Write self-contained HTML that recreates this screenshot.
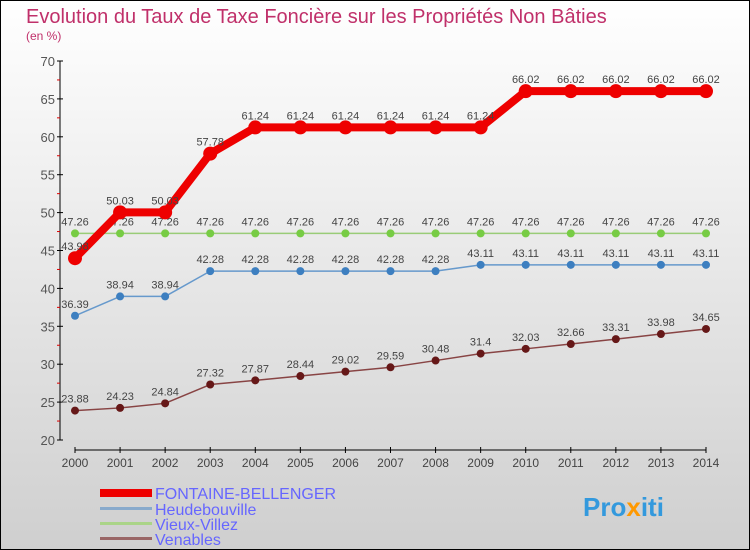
<!DOCTYPE html>
<html><head><meta charset="utf-8"><style>
body{margin:0}
svg{display:block;font-family:"Liberation Sans",sans-serif}
</style></head><body>
<svg id="c" width="750" height="550" viewBox="0 0 750 550">
<defs><linearGradient id="bg" x1="0" y1="0" x2="0" y2="1"><stop offset="0" stop-color="#ffffff"/><stop offset="1" stop-color="#cfcfcf"/></linearGradient></defs>
<rect x="0.5" y="0.5" width="749" height="549" fill="url(#bg)" stroke="#000"/>
<text x="26" y="23" font-size="20" fill="#c0306a">Evolution du Taux de Taxe Foncière sur les Propriétés Non Bâties</text>
<text x="26" y="40" font-size="12" fill="#c0306a">(en %)</text>
<g id="axes"></g><g id="series"></g>
<g>
<rect x="100" y="489" width="52" height="8" fill="#ee0000"/>
<text x="155" y="499" font-size="16" fill="#6666ff">FONTAINE-BELLENGER</text>
<rect x="100" y="507" width="52" height="3" fill="#88aacc"/>
<text x="155" y="515" font-size="16" fill="#6666ff">Heudebouville</text>
<rect x="100" y="522" width="52" height="3" fill="#aad488"/>
<text x="155" y="530" font-size="16" fill="#6666ff">Vieux-Villez</text>
<rect x="100" y="537" width="52" height="3" fill="#996666"/>
<text x="155" y="545" font-size="16" fill="#6666ff">Venables</text>
</g>
<text x="583" y="516" font-size="26" font-weight="bold" fill="#3399dd">Pro<tspan fill="#ff9900">x</tspan>iti</text>
</svg>
<script>
const years=[2000,2001,2002,2003,2004,2005,2006,2007,2008,2009,2010,2011,2012,2013,2014];
const fontaine=[43.98,50.03,50.03,57.78,61.24,61.24,61.24,61.24,61.24,61.24,66.02,66.02,66.02,66.02,66.02];
const heude=[36.39,38.94,38.94,42.28,42.28,42.28,42.28,42.28,42.28,43.11,43.11,43.11,43.11,43.11,43.11];
const vieux=[47.26,47.26,47.26,47.26,47.26,47.26,47.26,47.26,47.26,47.26,47.26,47.26,47.26,47.26,47.26];
const venables=[23.88,24.23,24.84,27.32,27.87,28.44,29.02,29.59,30.48,31.4,32.03,32.66,33.31,33.98,34.65];
const yTicks=[20,25,30,35,40,45,50,55,60,65,70];
const NS="http://www.w3.org/2000/svg";
const X=i=>75+i*(631/14);
const Y=v=>440-(v-20)*379/50;
function mk(t,a,p){const e=document.createElementNS(NS,t);for(const k in a)e.setAttribute(k,a[k]);p.appendChild(e);return e;}
const ax=document.getElementById('axes');
let l=mk('line',{x1:60,y1:Y(70),x2:60,y2:Y(20),stroke:'#000'},ax);


yTicks.forEach(v=>{
 mk('line',{x1:57,x2:63,y1:Y(v),y2:Y(v),stroke:'#000'},ax);
 if(v<70)mk('line',{x1:57,x2:60,y1:Y(v+2.5),y2:Y(v+2.5),stroke:'#d00'},ax);
 const t=mk('text',{x:55,y:Y(v)+5,'font-size':13,fill:'#555','text-anchor':'end'},ax);t.textContent=v;
 
 
});
l=mk('line',{x1:X(0),y1:450,x2:X(14),y2:450,stroke:'#000'},ax);


years.forEach((y,i)=>{
 mk('line',{x1:X(i),x2:X(i),y1:447,y2:453,stroke:'#000'},ax);
 const t=mk('text',{x:X(i),y:467,'font-size':12,fill:'#444','text-anchor':'middle'},ax);t.textContent=y;
 
 
});
const sg=document.getElementById('series');
function draw(name,vals,col,dot,w,r){
 const g=mk('g',{},sg);
 
 
 mk('polyline',{points:vals.map((v,i)=>X(i)+','+Y(v)).join(' '),fill:'none',stroke:col,'stroke-width':w,'stroke-linejoin':'round'},g);
 vals.forEach((v,i)=>{
  const c=mk('circle',{cx:X(i),cy:Y(v),r:r,fill:dot},g);
  
  
  const t=mk('text',{x:X(i),y:Y(v)-8,'font-size':11,fill:'#444','text-anchor':'middle'},g);t.textContent=v;
  
  
 });
}
draw('venables',venables,'#884444','#661818',1.5,4);
draw('heudebouville',heude,'#6699cc','#3d7fc0',1.5,4);
draw('vieux-villez',vieux,'#99cc77','#77cc44',1.5,4);
draw('fontaine',fontaine,'#ee0000','#ee0000',8,7);
</script>
</body></html>
